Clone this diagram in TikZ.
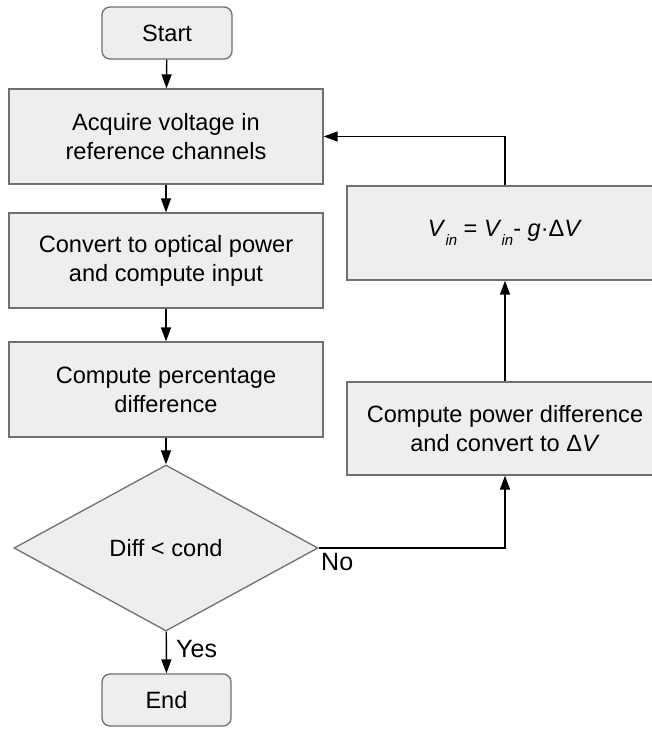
\documentclass[tikz,border=0pt]{standalone}
\usepackage{fontspec}
\setmainfont{Liberation Sans}
\usetikzlibrary{arrows.meta,shapes.geometric}
\definecolor{boxfill}{HTML}{EEEEEE}
\definecolor{boxline}{HTML}{707070}
\newcommand{\subin}{\raisebox{-9pt}{\fontsize{15}{15}\selectfont\textit{in}}}
\tikzset{
  every node/.style={font=\fontsize{23.6}{29}\selectfont},
  procbox/.style={draw=boxline, line width=1.3pt, fill=boxfill, minimum width=314pt, align=center, inner sep=0pt},
  termbox/.style={draw=boxline, line width=1.3pt, fill=boxfill, rounded corners=8pt, minimum width=130pt, minimum height=52pt, inner sep=0pt},
  decbox/.style={draw=boxline, line width=1.3pt, fill=boxfill, diamond, minimum width=304pt, minimum height=166pt, inner sep=0pt},
  conn/.style={line width=1.4pt, black, -{Triangle[length=14pt,width=10pt]}},
  lbl/.style={font=\fontsize{25}{25}\selectfont, inner sep=0pt}
}
\begin{document}
\begin{tikzpicture}[x=1pt,y=-1pt]
\useasboundingbox (0,0) rectangle (652,729);
\fill[white] (0,0) rectangle (652,729);
\node[termbox] (start) at (167,33) {Start};
\node[procbox, minimum height=95pt] (acq) at (166,136.5) {Acquire voltage in\\reference channels};
\node[procbox, minimum height=95pt] (conv) at (166,260.5) {Convert to optical power\\and compute input};
\node[procbox, minimum height=95pt] (pct) at (166,389.5) {Compute percentage\\difference};
\node[decbox] (dia) at (166,548) {Diff {<} cond};
\node[termbox, minimum width=129pt] (end) at (166.5,700) {End};
\node[procbox, minimum width=316pt, minimum height=94pt] (vin) at (505,233) {\textit{V}\subin\ = \textit{V}\subin- \textit{g}·Δ\textit{V}};
\node[procbox, minimum width=316pt, minimum height=93pt] (cp) at (505,428.5) {Compute power difference\\and convert to Δ\textit{V}};
\draw[conn] (start) -- (acq);
\draw[conn] (acq) -- (conv);
\draw[conn] (conv) -- (pct);
\draw[conn] (pct) -- (dia);
\draw[conn] (dia) -- (end);
\draw[conn] (dia.east) -| (cp.south);
\draw[conn] (cp) -- (vin);
\draw[conn] (vin.north) |- (acq.east);
\node[lbl, anchor=north west] (no) at (321,553) {No};
\node[lbl, anchor=west] (yes) at (176,649) {Yes};
\end{tikzpicture}
\end{document}
